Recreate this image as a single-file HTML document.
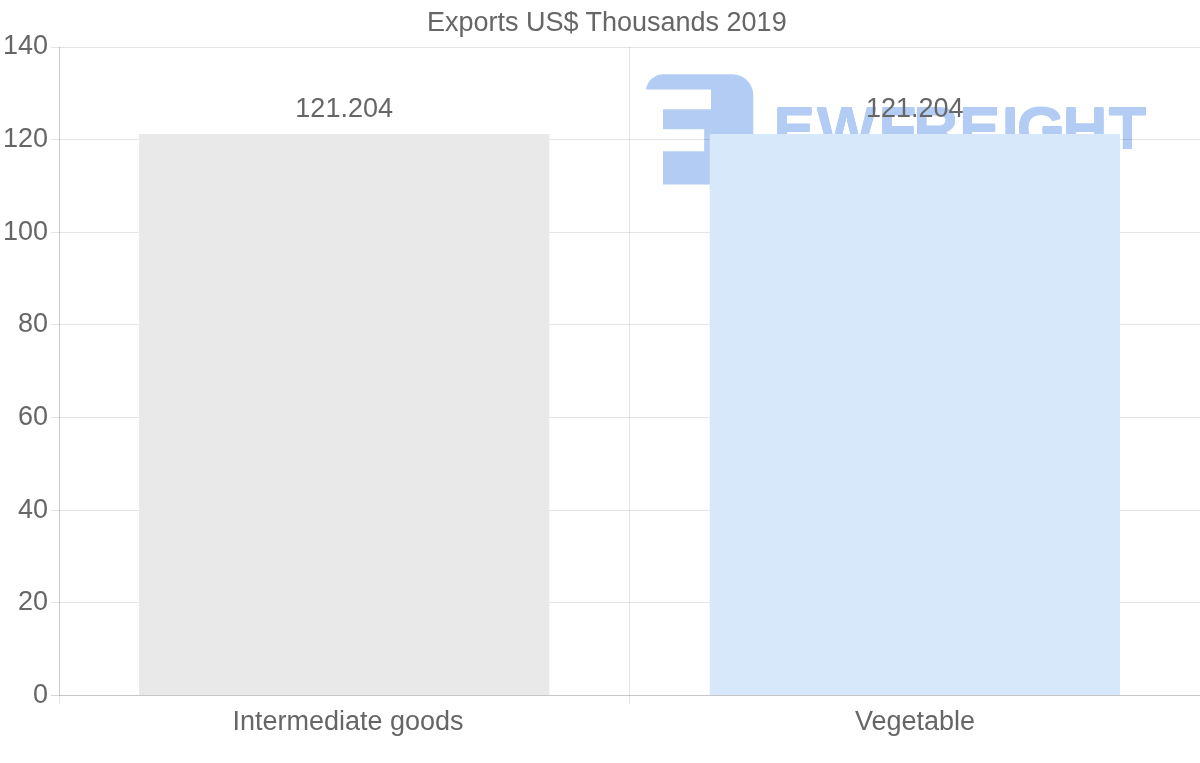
<!DOCTYPE html>
<html>
<head>
<meta charset="utf-8">
<title>Exports US$ Thousands 2019</title>
<style>
html,body{margin:0;padding:0;background:#fff;}
body{width:1200px;height:763px;overflow:hidden;}
svg{display:block;}
text{font-family:"Liberation Sans",Arial,sans-serif;}
.t{font-size:27px;fill:#666;}
.wm{font-weight:bold;font-size:57.7px;}
</style>
</head>
<body>
<svg width="1200" height="763" viewBox="0 0 1200 763">
  <defs>
    <filter id="thickY" x="-2%" y="-10%" width="104%" height="120%">
      <feOffset in="SourceGraphic" dy="-1" result="up"/>
      <feOffset in="SourceGraphic" dy="1" result="down"/>
      <feMerge><feMergeNode in="up"/><feMergeNode in="SourceGraphic"/><feMergeNode in="down"/></feMerge>
    </filter>
  </defs>
  <rect x="0" y="0" width="1200" height="763" fill="#ffffff"/>

  <!-- watermark logo -->
  <g id="watermark" fill="#b2ccf4">
    <path d="M646.1 89.4 A17.56 17.56 0 0 1 663.5 74.2 L732.3 74.2 A21 21.3 0 0 1 753.3 95.5 L753.3 184.6 L663 184.6 L663 151.2 L704.2 151.2 L704.2 129.3 L663 129.3 L663 109.2 L711 109.2 L711 89.4 Z"/>
    <text class="wm" filter="url(#thickY)" transform="scale(1.09,1)" y="147.7" x="709.34 749.4 805.85 837.51 879.61 918.84 932.55 974.61 1016.71">EWFREIGHT</text>
  </g>

  <!-- grid lines -->
  <g shape-rendering="crispEdges">
    <rect x="51" y="47" width="1149" height="1" fill="#e3e3e3"/>
    <rect x="51" y="139" width="1149" height="1" fill="rgba(0,0,0,0.1)"/>
    <rect x="51" y="232" width="1149" height="1" fill="rgba(0,0,0,0.1)"/>
    <rect x="51" y="324" width="1149" height="1" fill="rgba(0,0,0,0.1)"/>
    <rect x="51" y="417" width="1149" height="1" fill="rgba(0,0,0,0.1)"/>
    <rect x="51" y="510" width="1149" height="1" fill="rgba(0,0,0,0.1)"/>
    <rect x="51" y="602" width="1149" height="1" fill="rgba(0,0,0,0.1)"/>
    <rect x="629" y="47" width="1" height="657" fill="rgba(0,0,0,0.1)"/>
    <rect x="59" y="47" width="1" height="648" fill="rgba(0,0,0,0.2)"/>
    <rect x="59" y="695" width="1" height="9" fill="rgba(0,0,0,0.1)"/>
    <rect x="51" y="695" width="8" height="1" fill="rgba(0,0,0,0.16)"/>
    <rect x="59" y="695" width="1141" height="1" fill="rgba(0,0,0,0.22)"/>
  </g>

  <!-- bars -->
  <rect x="139" y="134" width="410.3" height="561" fill="#e9e9e9"/>
  <rect x="709.75" y="134" width="410.3" height="561" fill="#d8e8fb"/>

  <!-- title -->
  <text class="t" x="606.8" y="31.2" text-anchor="middle">Exports US$ Thousands 2019</text>

  <!-- y axis labels -->
  <g class="t" text-anchor="end">
    <text x="48" y="53.9">140</text>
    <text x="48" y="147.1">120</text>
    <text x="48" y="240.1">100</text>
    <text x="48" y="332.1">80</text>
    <text x="48" y="425.1">60</text>
    <text x="48" y="518.1">40</text>
    <text x="48" y="610.1">20</text>
    <text x="48" y="703.1">0</text>
  </g>

  <!-- bar value labels -->
  <text class="t" x="344.15" y="117" text-anchor="middle">121.204</text>
  <text class="t" x="914.8" y="117" text-anchor="middle">121.204</text>

  <!-- x axis labels -->
  <text class="t" x="348" y="730" text-anchor="middle">Intermediate goods</text>
  <text class="t" x="915" y="730" text-anchor="middle">Vegetable</text>
</svg>
</body>
</html>
